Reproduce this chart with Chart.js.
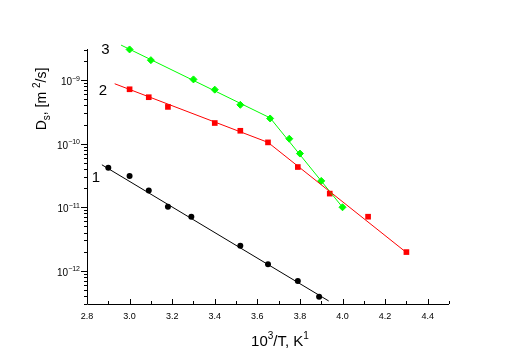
<!DOCTYPE html>
<html>
<head>
<meta charset="utf-8">
<script src="https://cdn.jsdelivr.net/npm/chart.js@4"></script>
<style>
  body { margin: 0; background: #fff; }
  canvas { display: block; }
</style>
</head>
<body>
<canvas id="dsChart" width="517" height="364"></canvas>
<script>
// measured points, x = 10^3/T, y = Ds in m^2/s
const xS1 = [2.9, 3.0, 3.09, 3.18, 3.29, 3.52, 3.65, 3.79, 3.89];
const yS1 = [4.2e-11, 3.1e-11, 1.83e-11, 1.02e-11, 7.1e-12, 2.47e-12, 1.27e-12, 6.9e-13, 3.9e-13];
const xS2 = [3.0, 3.09, 3.18, 3.4, 3.52, 3.65, 3.79, 3.94, 4.12, 4.3];
const yS2 = [7.2e-10, 5.4e-10, 3.8e-10, 2.12e-10, 1.6e-10, 1.05e-10, 4.3e-11, 1.64e-11, 7.1e-12, 1.97e-12];
const xS3 = [3.0, 3.1, 3.3, 3.4, 3.52, 3.66, 3.75, 3.8, 3.9, 4.0];
const yS3 = [3.05e-9, 2.07e-9, 1.03e-9, 7.1e-10, 4.1e-10, 2.5e-10, 1.2e-10, 7.0e-11, 2.6e-11, 1.0e-11];

// fitted Arrhenius lines
const fitX1 = [2.87, 3.935];
const fitY1 = [4.66e-11, 3.35e-13];
const fitX2 = [2.93, 3.65, 4.305];
const fitY2 = [8.8e-10, 1.05e-10, 1.88e-12];
const fitX3 = [2.96, 3.66, 4.0];
const fitY3 = [3.57e-9, 2.55e-10, 1.0e-11];

// axis ticks
const xTickLabels = ['2.8', '3.0', '3.2', '3.4', '3.6', '3.8', '4.0', '4.2', '4.4'];
const yExponents = [-12, -11, -10, -9];

// curve numbers: label, x, y
const curveNames = ['1', '2', '3'];
const curveNameX = [2.842, 2.875, 2.887];
const curveNameY = [2.5e-11, 5.85e-10, 2.58e-9];

const FONT = '"Liberation Sans", Arial, sans-serif';

function pairs(xs, ys) {
    return xs.map((x, i) => ({ x: x, y: ys[i] }));
}

// draws text with a raised or lowered small part: parts = [[text, 'n'|'sup'|'sub'], ...]
function richText(ctx, parts, x, y, size, align) {
    const small = Math.round(size * 0.68);
    let total = 0;
    parts.forEach(p => {
        ctx.font = (p[1] === 'n' ? size : small) + 'px ' + FONT;
        total += ctx.measureText(p[0]).width;
    });
    let cx = align === 'right' ? x - total : (align === 'center' ? x - total / 2 : x);
    ctx.textAlign = 'left';
    ctx.textBaseline = 'alphabetic';
    parts.forEach(p => {
        ctx.font = (p[1] === 'n' ? size : small) + 'px ' + FONT;
        let dy = 0;
        if (p[1] === 'sup') dy = -size * 0.45;
        if (p[1] === 'sub') dy = size * 0.25;
        ctx.fillText(p[0], cx, y + dy);
        cx += ctx.measureText(p[0]).width;
    });
}

const axesPlugin = {
    id: 'originAxes',
    beforeDatasetsDraw(chart) {
        const ctx = chart.ctx;
        const xs = chart.scales.x;
        const ys = chart.scales.y;
        const a = chart.chartArea;
        ctx.save();
        ctx.strokeStyle = '#000';
        ctx.fillStyle = '#000';
        ctx.lineWidth = 1;

        // axis lines
        ctx.beginPath();
        ctx.moveTo(a.left + 0.5, a.top);
        ctx.lineTo(a.left + 0.5, a.bottom + 0.5);
        ctx.lineTo(a.right, a.bottom + 0.5);
        ctx.stroke();

        // x ticks (pointing inward)
        for (let i = 0; i <= 17; i++) {
            const v = 2.8 + i * 0.1;
            const px = Math.round(xs.getPixelForValue(v)) + 0.5;
            const len = i % 2 === 0 ? 5 : 3;
            ctx.beginPath();
            ctx.moveTo(px, a.bottom);
            ctx.lineTo(px, a.bottom - len);
            ctx.stroke();
        }
        ctx.font = '9px ' + FONT;
        ctx.textAlign = 'center';
        ctx.textBaseline = 'alphabetic';
        xTickLabels.forEach(lbl => {
            const px = xs.getPixelForValue(parseFloat(lbl));
            ctx.fillText(lbl, px, a.bottom + 15);
        });

        // y ticks (pointing outward), log minor ticks
        for (let e = -13; e <= -9; e++) {
            for (let m = 1; m <= 9; m++) {
                const v = m * Math.pow(10, e);
                if (v < ys.min || v > ys.max) continue;
                const py = Math.round(ys.getPixelForValue(v)) + 0.5;
                const len = m === 1 ? 6 : 3;
                ctx.beginPath();
                ctx.moveTo(a.left, py);
                ctx.lineTo(a.left - len, py);
                ctx.stroke();
            }
        }
        yExponents.forEach(e => {
            const py = ys.getPixelForValue(Math.pow(10, e));
            richText(ctx, [['10', 'n'], ['\u2212' + Math.abs(e), 'sup']], a.left - 7, py + 5, 10, 'right');
        });

        // axis titles
        ctx.fillStyle = '#000';
        richText(ctx, [['10', 'n'], ['3', 'sup'], ['/T, K', 'n'], ['1', 'sup']],
            (a.left + a.right) / 2 + 12, 346, 15, 'center');
        ctx.save();
        ctx.translate(46, 99);
        ctx.rotate(-Math.PI / 2);
        richText(ctx, [['D', 'n'], ['s', 'sub'], [', [m ', 'n'], ['2', 'sup'], ['/s]', 'n']], 0, 0, 14, 'center');
        ctx.restore();

        // curve numbers
        ctx.font = '15px ' + FONT;
        ctx.textAlign = 'center';
        ctx.textBaseline = 'alphabetic';
        curveNames.forEach((n, i) => {
            ctx.fillText(n, xs.getPixelForValue(curveNameX[i]), ys.getPixelForValue(curveNameY[i]));
        });
        ctx.restore();
    }
};

new Chart(document.getElementById('dsChart'), {
    type: 'scatter',
    data: {
        datasets: [
            // fit lines
            { data: pairs(fitX1, fitY1), showLine: true, borderColor: '#000', borderWidth: 1, pointRadius: 0, clip: false },
            { data: pairs(fitX2, fitY2), showLine: true, borderColor: '#ff0000', borderWidth: 1, pointRadius: 0, clip: false },
            { data: pairs(fitX3, fitY3), showLine: true, borderColor: '#00ff00', borderWidth: 1, pointRadius: 0, clip: false },
            // measured points
            { data: pairs(xS1, yS1), pointStyle: 'circle', pointRadius: 3, backgroundColor: '#000', borderColor: '#000', borderWidth: 0, clip: false },
            { data: pairs(xS2, yS2), pointStyle: 'rect', pointRadius: 4, backgroundColor: '#ff0000', borderColor: '#ff0000', borderWidth: 0, clip: false },
            { data: pairs(xS3, yS3), pointStyle: 'rectRot', pointRadius: 3.5, backgroundColor: '#00ff00', borderColor: '#00ff00', borderWidth: 1, clip: false }
        ]
    },
    options: {
        responsive: false,
        animation: false,
        layout: {
            padding: { left: 87, right: 68, top: 49, bottom: 60 }
        },
        plugins: {
            legend: { display: false },
            tooltip: { enabled: false }
        },
        scales: {
            x: { type: 'linear', min: 2.8, max: 4.5, display: false },
            y: { type: 'logarithmic', min: 3e-13, max: 3.1e-9, display: false }
        }
    },
    plugins: [axesPlugin]
});
</script>
</body>
</html>
